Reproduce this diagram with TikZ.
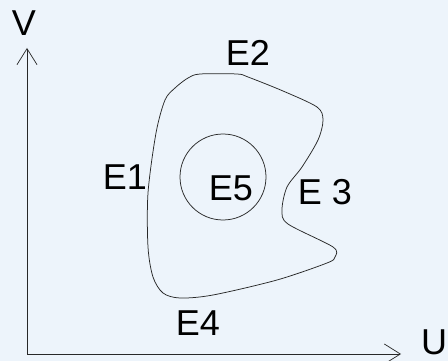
\documentclass[tikz,border=0pt]{standalone}
\usepackage{fontspec}
\setmainfont{Liberation Sans}
\usetikzlibrary{arrows.meta}
\definecolor{bgBlue}{RGB}{237,244,251}
\definecolor{lineGray}{RGB}{40,40,40}
\tikzset{
  axis/.style={lineGray, line width=0.75pt, -{Straight Barb[length=16pt,width=20pt,line width=0.7pt]}},
  region/.style={lineGray, line width=0.75pt},
  lbl/.style={inner sep=0pt, font=\fontsize{36}{36}\selectfont}
}
\begin{document}
\begin{tikzpicture}[x=1pt, y=-1pt]
    % Background
    \fill[bgBlue] (0,0) rectangle (448,361);
    \useasboundingbox (0,0) rectangle (448,361);
    % Axes
    \coordinate (o) at (27,354);
    \coordinate (vtip) at (27,48);
    \coordinate (utip) at (401,354);
    \draw[axis] (o) -- (vtip);
    \draw[axis] (o) -- (utip);
    \node[lbl] (v) at (24,23) {V};
    \node[lbl] (u) at (434,342) {U};
    % Outer region
    \draw[region] plot[smooth cycle, tension=0.5] coordinates {
      (200,74) (237,74) (248,77) (283,91) (317,107) (323,120) (318,140)
      (302,167) (287,187) (282,210) (288,224) (333,247) (335,257)
      (327,263) (277,280) (213,295) (180,298) (163,293) (153,277)
      (148,247) (148,193) (156,133) (165,100) (175,88) (188,78)};
    % Inner circle
    \draw[region] (223,177) circle (43);
    % Labels
    \node[lbl] (e1) at (125,177) {E1};
    \node[lbl] (e2) at (248,53) {E2};
    \node[lbl] (e3) at (325,192) {E 3};
    \node[lbl] (e4) at (198,323) {E4};
    \node[lbl] (e5) at (231,188) {E5};
\end{tikzpicture}
\end{document}
